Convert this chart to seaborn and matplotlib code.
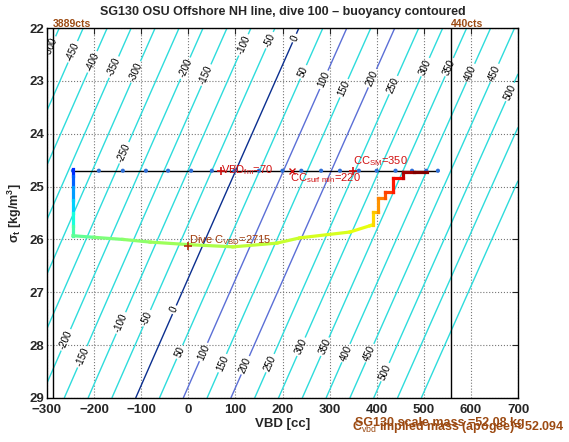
import numpy as np
import pandas as pd
import matplotlib
matplotlib.use('Agg')
import matplotlib.pyplot as plt
from matplotlib.collections import LineCollection
import seaborn as sns

# ---------------- data ----------------
scale_mass_kg = 52.08
implied_mass_kg = 52.094
hull_volume_cc = 50724.0          # vehicle volume at VBD = 0
buoyancy_scale = 1.04             # effective grams per contour gram
contour_levels = list(range(-600, 601, 50))   # buoyancy [g]

# dive trajectory in (VBD, sigma_t) space, with fraction of dive time (colour)
path_vbd = [-245, -245, -245, -245, -245, -245, -245, -200, -139, -81, 4, 95, 188,
            237, 343, 386, 392, 392, 403, 403, 418, 418, 435, 435, 456, 456, 480, 507]
path_sigma = [24.67, 24.80, 25.00, 25.25, 25.50, 25.75, 25.93, 25.96, 26.00, 26.05,
              26.10, 26.14, 26.07, 25.97, 25.86, 25.74, 25.72, 25.48, 25.48, 25.21,
              25.21, 25.10, 25.10, 24.84, 24.84, 24.72, 24.72, 24.72]
path_time = [0.13, 0.17, 0.22, 0.28, 0.33, 0.38, 0.44, 0.47, 0.50, 0.52, 0.54, 0.56,
             0.58, 0.59, 0.61, 0.63, 0.64, 0.68, 0.70, 0.75, 0.77, 0.82, 0.84, 0.88,
             0.90, 0.94, 0.97, 1.00]

# surface samples
surface_vbd = [-245, -190, -139, -90, -43, 6, 50, 98, 150, 200, 240, 282, 322,
               362, 400, 440, 475, 505, 530]
surface_sigma = [24.70] * len(surface_vbd)

# reference VBD limits
limit_vbd = [-288, 558]
limit_labels = ['3889cts', '440cts']

# annotated points
vbd_fm = 70
cc_surf_min = 220
cc_sm = 350
dive_c_vbd = 2715
dive_c_point = (0, 26.12)
marker_sigma = 24.70

title = 'SG130 OSU Offshore NH line, dive 100 \u2013 buoyancy contoured'
x_ticks = list(range(-300, 701, 100))
y_ticks = list(range(22, 30))

# contour label positions along each level (sigma of label), style only
label_sigma_top = {-500: 22.36, -450: 22.45, -400: 22.64, -350: 22.74, -300: 22.83,
                   -250: 24.36, -200: 22.76, -150: 22.89, -100: 22.32, -50: 22.23,
                   0: 22.19, 50: 22.83, 100: 22.98, 150: 23.14, 200: 22.95,
                   250: 23.08, 300: 22.74, 350: 22.74, 400: 22.85, 450: 22.85, 500: 23.21}
label_sigma_bot = {-200: 27.90, -150: 28.22, -100: 27.58, -50: 27.49, 0: 27.33,
                   50: 28.13, 100: 28.13, 150: 28.34, 200: 28.38, 250: 28.34,
                   300: 28.03, 350: 28.03, 400: 28.15, 450: 28.15, 500: 28.51}

# ---------------- style ----------------
sns.set_style('white')
plt.rcParams['font.family'] = ['Liberation Sans', 'DejaVu Sans']
plt.rcParams['mathtext.fontset'] = 'custom'
plt.rcParams['mathtext.rm'] = 'Liberation Sans'
plt.rcParams['mathtext.it'] = 'Liberation Sans'
plt.rcParams['mathtext.bf'] = 'Liberation Sans:bold'

fig = plt.figure(figsize=(5.69, 4.42), dpi=100)
ax = fig.add_axes([47 / 569, 1 - 398 / 442, 471 / 569, 370 / 442])
ax.set_xlim(-300, 700)
ax.set_ylim(29, 22)

# buoyancy field
vg = np.linspace(-300, 700, 401)
sg = np.linspace(22, 29, 281)
V, S = np.meshgrid(vg, sg)
B = ((1000.0 + S) / 1000.0 * (hull_volume_cc + V) - scale_mass_kg * 1000.0) / buoyancy_scale

def lev_color(l):
    if l == 0:
        return '#0b2f8f'
    if l in (100, 200):
        return '#5b6fd6'
    return '#2edcdc'

cs = ax.contour(V, S, B, levels=contour_levels,
                colors=[lev_color(l) for l in contour_levels], linewidths=1.0)

def pos_on_level(level, sigma):
    v = (scale_mass_kg * 1000.0 + level * buoyancy_scale) * 1000.0 / (1000.0 + sigma) \
        - hull_volume_cc
    return (v, sigma)

manual = [pos_on_level(l, s) for l, s in label_sigma_top.items()] + \
         [pos_on_level(l, s) for l, s in label_sigma_bot.items()]
texts = ax.clabel(cs, manual=manual, fmt='%d', fontsize=7, inline=True, inline_spacing=2,
                  colors='k')
# orient labels along the lines as they appear on screen
for t in texts:
    x, y = t.get_position()
    lev = float(t.get_text().replace('\u2212', '-'))
    s2 = y + 0.2
    x2, _ = pos_on_level(lev, s2)
    p1 = ax.transData.transform((x, y))
    p2 = ax.transData.transform((x2, s2))
    ang = np.degrees(np.arctan2(p2[1] - p1[1], p2[0] - p1[0]))
    if ang > 90:
        ang -= 180
    if ang < -90:
        ang += 180
    t.set_rotation(ang)

# surface line with samples
surf = pd.DataFrame({'vbd': surface_vbd, 'sigma': surface_sigma})
ax.plot(surf['vbd'], surf['sigma'], color='k', lw=1.0, zorder=3)
sns.scatterplot(data=surf, x='vbd', y='sigma', ax=ax, color='#2f6fd8', s=9,
                edgecolor='none', zorder=4)

# dive trajectory coloured by time
pts = np.column_stack([path_vbd, path_sigma])
segs = np.stack([pts[:-1], pts[1:]], axis=1)
cols = plt.get_cmap('jet')(np.array(path_time[1:]))
lc = LineCollection(segs, colors=cols, linewidths=2.3, capstyle='projecting', zorder=5)
ax.add_collection(lc)

# limit lines
brown = '#9c4a12'
for v, lab in zip(limit_vbd, limit_labels):
    ax.axvline(v, color='k', lw=1.0, zorder=2)
    ax.text(v, 21.985, lab, color=brown, fontsize=7.5, fontweight='bold',
            ha='left', va='baseline', clip_on=False)

# annotations
red = '#d01010'
ax.plot([vbd_fm], [marker_sigma], marker='+', color=red, ms=6, mew=1.2, zorder=6)
ax.text(vbd_fm, 24.74, r'VBD$_{fm}$=%d' % vbd_fm, color=red, fontsize=8, va='baseline', zorder=7)
ax.plot([cc_surf_min], [marker_sigma], marker='x', color=red, ms=4, mew=1.0, zorder=6)
ax.text(cc_surf_min - 4, 24.90, r'CC$_{surf\ min}$=%d' % cc_surf_min, color=red, fontsize=8,
        va='baseline', zorder=7)
ax.plot([cc_sm], [marker_sigma], marker='+', color=red, ms=6, mew=1.2, zorder=6)
ax.text(cc_sm, 24.57, r'CC$_{SM}$=%d' % cc_sm, color=red, fontsize=8, va='baseline', zorder=7)
ax.plot([dive_c_point[0]], [dive_c_point[1]], marker='+', color='#b0300a', ms=6, mew=1.2, zorder=6)
ax.text(dive_c_point[0] + 2, 26.07, r'Dive C$_{VBD}$=%d' % dive_c_vbd, color='#a03a0a',
        fontsize=8, va='baseline', zorder=7)

# axes
ax.set_xticks(x_ticks)
ax.set_yticks(y_ticks)
ax.grid(True, linestyle=':', color='#777777', lw=0.8)
ax.tick_params(direction='in', length=4, width=0.8, top=True, right=True,
               labelsize=9.5)
ax.tick_params(axis='x', pad=4)
ax.tick_params(axis='y', pad=2)
for lab in ax.get_xticklabels() + ax.get_yticklabels():
    lab.set_fontweight('bold')
for sp in ax.spines.values():
    sp.set_color('k')
    sp.set_linewidth(1.0)
ax.set_xlabel('VBD [cc]', fontsize=9.5, fontweight='bold', labelpad=2)
ax.set_ylabel(r'$\mathbf{\sigma_t}$ [kg/m$^\mathbf{3}$]', fontsize=9, fontweight='bold', labelpad=4)
ax.set_title(title, fontsize=9, fontweight='bold', pad=9)

fig.text(355 / 569, 1 - 426 / 442, 'SG130 scale mass =%.2f kg' % scale_mass_kg,
         color=brown, fontsize=9, fontweight='bold', va='baseline')
fig.text(352 / 569, 1 - 430 / 442, r'C$_{vbd}$ implied mass (apogee)= %.3f' % implied_mass_kg,
         color=brown, fontsize=9, fontweight='bold', va='baseline')

fig.savefig('out.png', dpi=100)
